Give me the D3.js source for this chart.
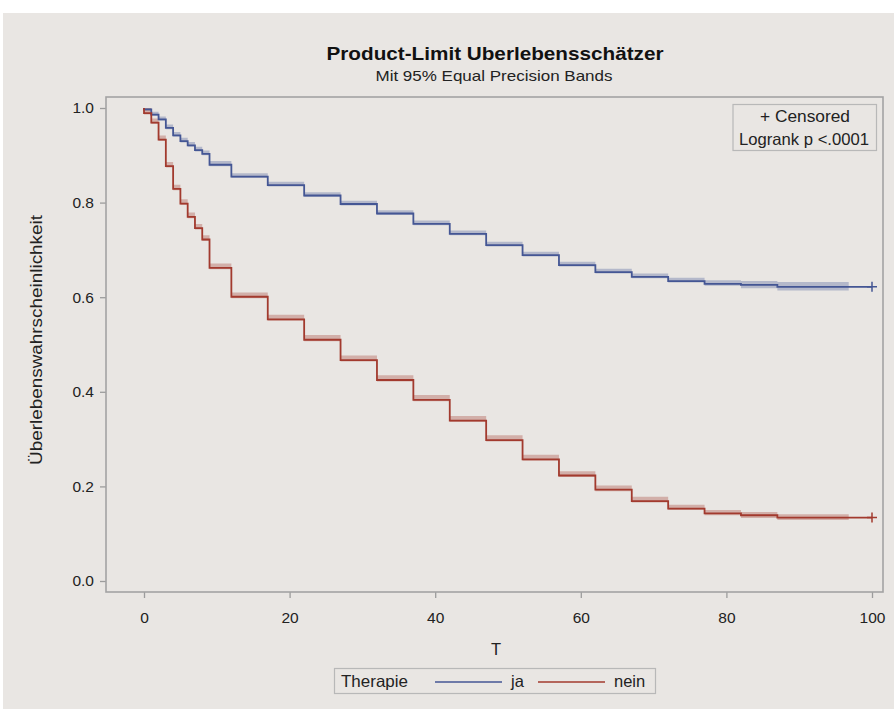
<!DOCTYPE html>
<html lang="en">
<head>
<meta charset="UTF-8">
<title>Product-Limit Uberlebensschätzer</title>
<style>
  body { margin: 0; background: #fff; }
  svg { display: block; font-family: "Liberation Sans", Arial, sans-serif; }
</style>
</head>
<body>
<svg width="894" height="709"></svg>
<script src="https://d3js.org/d3.v7.min.js"></script>
<script>
  // step times shared by both groups
  const times = [0, 1, 2, 3, 4, 5, 6, 7, 8, 9, 12, 17, 22, 27, 32, 37, 42, 47, 52, 57, 62, 67, 72, 77, 82, 87];
  const jaSurv   = [0.997, 0.986, 0.976, 0.958, 0.942, 0.930, 0.921, 0.911, 0.903, 0.880, 0.855, 0.837, 0.815, 0.797, 0.777, 0.755, 0.734, 0.710, 0.689, 0.668, 0.653, 0.643, 0.634, 0.628, 0.626, 0.622];
  const jaUpper  = [1.000, 0.992, 0.982, 0.965, 0.949, 0.937, 0.928, 0.918, 0.910, 0.888, 0.862, 0.844, 0.822, 0.804, 0.784, 0.762, 0.741, 0.717, 0.696, 0.675, 0.660, 0.650, 0.641, 0.636, 0.634, 0.632];
  const jaLower  = [0.994, 0.983, 0.973, 0.955, 0.939, 0.927, 0.918, 0.908, 0.900, 0.877, 0.852, 0.834, 0.812, 0.794, 0.774, 0.752, 0.731, 0.707, 0.686, 0.665, 0.650, 0.640, 0.631, 0.624, 0.619, 0.614];
  const neinSurv  = [0.989, 0.969, 0.933, 0.877, 0.829, 0.798, 0.770, 0.746, 0.722, 0.662, 0.601, 0.553, 0.510, 0.467, 0.425, 0.383, 0.339, 0.298, 0.257, 0.223, 0.193, 0.169, 0.153, 0.143, 0.139, 0.134];
  const neinUpper = [1.000, 0.978, 0.942, 0.886, 0.838, 0.807, 0.779, 0.755, 0.731, 0.671, 0.610, 0.563, 0.520, 0.477, 0.435, 0.393, 0.349, 0.308, 0.267, 0.232, 0.202, 0.178, 0.161, 0.150, 0.146, 0.141];
  const neinLower = [0.986, 0.966, 0.930, 0.874, 0.826, 0.795, 0.767, 0.743, 0.719, 0.659, 0.598, 0.550, 0.507, 0.464, 0.422, 0.380, 0.336, 0.295, 0.254, 0.220, 0.190, 0.166, 0.150, 0.139, 0.133, 0.129];
  const bandEnd = 96.8;
  const lastTime = 100;   // censored at end
  const xTicks = [0, 20, 40, 60, 80, 100];
  const yTicks = [0.0, 0.2, 0.4, 0.6, 0.8, 1.0];
  const groups = ['ja', 'nein'];

  const colors = { ja: '#445694', nein: '#a23a2e' };
  const FONT = '"Liberation Sans", Arial, sans-serif';

  const svg = d3.select('svg');
  svg.append('rect').attr('x', 3).attr('y', 13).attr('width', 891).attr('height', 696).attr('fill', '#e9e6e3');

  const frame = { left: 106, right: 883, top: 97, bottom: 592 };
  const x = d3.scaleLinear().domain([0, 100]).range([144, 872]);
  const y = d3.scaleLinear().domain([0, 1]).range([581, 108]);

  // titles
  svg.append('text').attr('x', 495).attr('y', 60).attr('text-anchor', 'middle')
    .attr('font-size', 19).attr('font-weight', 'bold').attr('fill', '#111')
    .attr('textLength', 337).attr('lengthAdjust', 'spacingAndGlyphs')
    .text('Product-Limit Uberlebensschätzer');
  svg.append('text').attr('x', 494).attr('y', 81).attr('text-anchor', 'middle')
    .attr('font-size', 15).attr('fill', '#222')
    .attr('textLength', 237).attr('lengthAdjust', 'spacingAndGlyphs')
    .text('Mit 95% Equal Precision Bands');

  // axes
  const yAxis = svg.append('g').attr('transform', `translate(${frame.left},0)`)
    .call(d3.axisLeft(y).tickValues(yTicks).tickFormat(d3.format('.1f')).tickSize(6).tickPadding(6));
  const xAxis = svg.append('g').attr('transform', `translate(0,${frame.bottom})`)
    .call(d3.axisBottom(x).tickValues(xTicks).tickSize(6).tickPadding(14));
  [xAxis, yAxis].forEach(g => {
    g.select('.domain').remove();
    g.selectAll('.tick line').attr('stroke', '#9c9c9c').attr('stroke-width', 1.3);
    g.selectAll('.tick text').attr('font-size', 15.5)
      .attr('font-family', FONT).attr('fill', '#222');
  });

  svg.append('text').attr('x', 496).attr('y', 655).attr('text-anchor', 'middle')
    .attr('font-size', 16.5).attr('fill', '#222').text('T');
  svg.append('text').attr('transform', 'translate(42,340) rotate(-90)').attr('text-anchor', 'middle')
    .attr('font-size', 16).attr('fill', '#222')
    .attr('textLength', 250).attr('lengthAdjust', 'spacingAndGlyphs')
    .text('Überlebenswahrscheinlichkeit');

  const series = {
    ja: { surv: jaSurv, up: jaUpper, lo: jaLower },
    nein: { surv: neinSurv, up: neinUpper, lo: neinLower }
  };

  const plot = svg.append('g');
  const area = d3.area().curve(d3.curveStepAfter)
    .x(d => x(d.t)).y0(d => y(d.lo)).y1(d => y(d.up));
  const line = d3.line().curve(d3.curveStepAfter).x(d => x(d.t)).y(d => y(d.s));

  groups.forEach(g => {
    const s = series[g];
    const band = times.map((t, i) => ({ t, lo: s.lo[i], up: s.up[i] }));
    band.push({ t: bandEnd, lo: s.lo[s.lo.length - 1], up: s.up[s.up.length - 1] });
    plot.append('path').datum(band).attr('d', area)
      .attr('fill', colors[g]).attr('fill-opacity', 0.32);
  });
  groups.forEach(g => {
    const s = series[g];
    const pts = [{ t: 0, s: 1 }].concat(times.map((t, i) => ({ t, s: s.surv[i] })));
    pts.push({ t: lastTime, s: s.surv[s.surv.length - 1] });
    plot.append('path').datum(pts).attr('d', line)
      .attr('fill', 'none').attr('stroke', colors[g]).attr('stroke-width', 1.8);
    // censor mark
    const cx = x(lastTime), cy = y(s.surv[s.surv.length - 1]);
    plot.append('path').attr('d', `M${cx - 5},${cy}H${cx + 5}M${cx},${cy - 5}V${cy + 5}`)
      .attr('stroke', colors[g]).attr('stroke-width', 1.5).attr('fill', 'none');
  });

  // frame
  svg.append('rect').attr('x', frame.left).attr('y', frame.top)
    .attr('width', frame.right - frame.left).attr('height', frame.bottom - frame.top)
    .attr('fill', 'none').attr('stroke', '#a3a3a3').attr('stroke-width', 1.6);

  // inset
  svg.append('rect').attr('x', 733).attr('y', 104.5).attr('width', 143.5).attr('height', 46)
    .attr('fill', 'none').attr('stroke', '#b8b8b8').attr('stroke-width', 1.2);
  svg.append('text').attr('x', 805).attr('y', 122).attr('text-anchor', 'middle')
    .attr('font-size', 16.5).attr('fill', '#222')
    .attr('textLength', 90).attr('lengthAdjust', 'spacingAndGlyphs').text('+ Censored');
  svg.append('text').attr('x', 804).attr('y', 145).attr('text-anchor', 'middle')
    .attr('font-size', 16.5).attr('fill', '#222')
    .attr('textLength', 130).attr('lengthAdjust', 'spacingAndGlyphs').text('Logrank p <.0001');

  // legend
  const leg = svg.append('g');
  leg.append('rect').attr('x', 334.5).attr('y', 668.5).attr('width', 321).attr('height', 25)
    .attr('fill', 'none').attr('stroke', '#b8b8b8').attr('stroke-width', 1.2);
  leg.append('text').attr('x', 341).attr('y', 687).attr('font-size', 16.5).attr('fill', '#222')
    .attr('textLength', 67).attr('lengthAdjust', 'spacingAndGlyphs').text('Therapie');
  const legItems = [{ g: 'ja', x1: 435, x2: 502, tx: 511 }, { g: 'nein', x1: 538, x2: 605, tx: 614 }];
  legItems.forEach(d => {
    leg.append('line').attr('x1', d.x1).attr('x2', d.x2).attr('y1', 682).attr('y2', 682)
      .attr('stroke', colors[d.g]).attr('stroke-width', 1.3);
    leg.append('text').attr('x', d.tx).attr('y', 687).attr('font-size', 16.5).attr('fill', '#222').text(d.g);
  });
</script>
</body>
</html>
